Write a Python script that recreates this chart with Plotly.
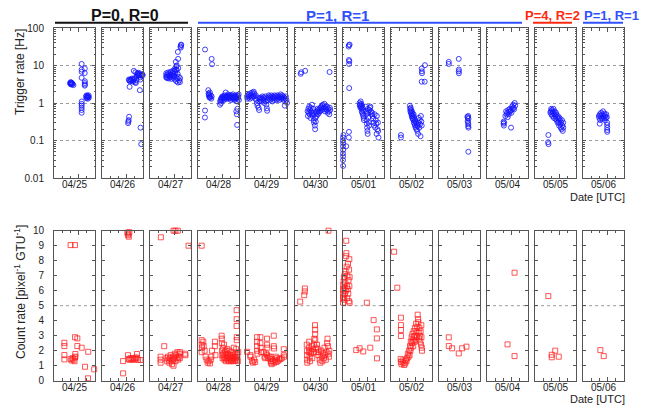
import plotly.graph_objects as go

W, H = 655, 407

dates = ["04/25", "04/26", "04/27", "04/28", "04/29", "04/30",
         "05/01", "05/02", "05/03", "05/04", "05/05", "05/06"]

# ---- Trigger rate [Hz]: (hour relative to 00:00 UTC of the date, value) ----
trig_0425 = [(-6.3, 3.4), (-6.0, 3.2), (-5.8, 3.6), (-5.6, 3.3), (-5.4, 3.5), (-5.2, 3.1), (-5.0, 3.4),
             (-4.8, 3.3), (-4.4, 3.2), (-3.8, 3.0), (2.3, 11.0), (2.3, 7.8), (2.3, 6.8), (2.3, 4.7),
             (2.4, 1.1), (2.3, 0.95), (2.3, 0.85), (2.3, 0.75), (2.3, 0.65), (2.3, 0.55), (4.6, 8.3),
             (4.6, 6.3), (4.7, 3.8), (4.6, 3.4), (4.7, 3.1), (4.6, 2.9), (5.5, 1.5), (5.8, 1.35), (6.0, 1.6),
             (6.3, 1.4), (6.6, 1.55), (6.9, 1.3), (7.2, 1.45), (7.5, 1.6), (7.7, 1.4), (7.0, 1.5)]
trig_0426 = [(1.1, 0.29), (1.5, 0.35), (1.8, 0.43), (1.3, 0.32), (2.2, 2.7), (1.6, 4.2), (2.0, 4.0),
             (2.4, 3.8), (2.8, 4.3), (3.2, 4.1), (3.6, 3.9), (4.0, 4.5), (4.4, 4.2), (4.8, 3.7), (5.2, 4.0),
             (5.6, 4.4), (6.0, 4.6), (6.4, 3.6), (6.8, 3.4), (7.2, 4.1), (7.6, 5.2), (8.0, 5.8), (8.4, 6.0),
             (8.8, 5.5), (9.2, 5.4), (9.6, 5.9), (10.0, 4.8), (10.4, 5.6), (10.8, 5.3), (11.2, 5.7),
             (11.6, 5.8), (11.9, 5.5), (10.2, 4.2), (5.3, 7.2), (6.5, 6.6), (8.0, 6.2), (9.0, 6.4),
             (9.8, 2.2), (10.3, 0.22), (10.8, 0.08)]
trig_0427 = [(-6.3, 4.8), (-6.3, 5.5), (-6.3, 6.2), (-6.0, 5.0), (-5.6, 4.6), (-5.3, 5.8), (-5.0, 6.5),
             (-4.7, 5.2), (-4.4, 4.5), (-4.1, 6.0), (-3.8, 5.4), (-3.5, 4.9), (-3.2, 6.8), (-2.9, 5.7),
             (-2.6, 4.4), (-2.3, 5.1), (-2.0, 6.3), (-1.7, 5.5), (-1.4, 7.2), (-1.1, 4.7), (-0.8, 6.0),
             (-0.5, 5.3), (-0.2, 8.0), (0.1, 4.2), (0.4, 6.6), (0.7, 5.0), (1.0, 9.5), (1.2, 3.8),
             (1.5, 7.5), (1.8, 4.5), (2.1, 6.0), (2.4, 3.5), (3.0, 5.0), (3.4, 4.0), (3.8, 3.6), (4.0, 4.6),
             (2.6, 8.5), (0.9, 7.8), (-0.5, 7.0), (0.8, 12.5), (1.5, 10.0), (2.3, 23.0), (2.5, 15.0),
             (4.3, 32.0), (4.6, 35.0), (4.8, 36.0), (4.5, 30.0)]
trig_0428 = [(-13.2, 26.7), (-8.3, 15.0), (-8.0, 10.8), (-13.2, 0.63), (-13.3, 0.41), (-10.8, 2.2),
             (-10.6, 1.8), (-10.4, 1.6), (-10.2, 1.7), (-9.9, 1.5), (-9.6, 1.9), (-9.3, 1.4), (-9.0, 1.6),
             (-8.6, 1.3), (-8.3, 1.5), (-10.0, 1.4), (-2.1, 0.9), (-2.0, 1.1), (-1.7, 1.2), (-1.4, 1.0),
             (-1.2, 1.3), (-0.9, 1.4), (-0.6, 1.2), (-0.3, 1.5), (0.0, 1.3), (0.3, 1.4), (0.6, 1.5),
             (0.9, 1.2), (1.2, 1.6), (1.5, 1.4), (1.8, 1.3), (2.1, 1.9), (2.4, 1.5), (2.7, 1.4), (3.0, 1.6),
             (3.3, 1.3), (3.6, 1.5), (3.9, 1.7), (4.2, 1.4), (4.5, 1.5), (4.8, 1.3), (5.1, 1.6), (5.4, 1.4),
             (5.7, 1.5), (6.0, 1.2), (6.3, 1.6), (6.6, 1.4), (6.9, 1.3), (7.2, 1.5), (7.5, 1.7), (7.8, 1.4),
             (8.1, 1.3), (8.4, 1.5), (8.7, 1.2), (9.0, 1.4), (9.3, 1.6), (9.6, 1.3), (9.9, 1.5), (10.2, 1.4),
             (10.5, 1.1), (10.8, 1.6), (11.1, 1.3), (11.4, 1.5), (11.7, 1.7), (11.9, 1.2), (10.0, 0.6),
             (10.4, 0.5), (10.8, 0.7), (10.6, 0.26)]
trig_0429 = [(-17.7, 1.5), (-17.5, 1.3), (-17.2, 1.6), (-16.8, 1.4), (-16.4, 1.7), (-16.0, 1.5),
             (-15.6, 1.3), (-15.2, 1.8), (-14.8, 1.6), (-14.4, 1.4), (-14.0, 1.9), (-13.6, 1.7),
             (-13.2, 1.5), (-12.8, 2.0), (-12.4, 1.8), (-12.0, 1.5), (-11.6, 1.3), (-11.2, 1.6),
             (-10.8, 1.2), (-10.4, 1.0), (-10.0, 0.85), (-9.6, 1.4), (-9.2, 0.75), (-8.8, 0.65),
             (-8.6, 1.1), (-8.2, 1.3), (-7.8, 1.2), (-7.4, 1.4), (-7.0, 1.1), (-6.6, 1.3), (-6.2, 1.5),
             (-5.8, 1.2), (-5.4, 1.4), (-5.0, 1.0), (-4.6, 1.3), (-4.2, 1.5), (-3.8, 1.1), (-3.4, 0.9),
             (-3.0, 0.72), (-2.8, 0.62), (-2.5, 1.2), (-2.1, 1.4), (-1.7, 1.6), (-1.3, 1.3), (-0.9, 1.5),
             (-0.5, 1.2), (-0.1, 1.4), (0.3, 1.6), (0.7, 1.3), (1.1, 1.1), (1.5, 1.5), (1.9, 1.4),
             (2.3, 1.2), (2.7, 1.6), (3.1, 1.3), (3.5, 1.5), (3.9, 1.4), (4.3, 1.2), (4.7, 1.6), (5.1, 1.3),
             (5.5, 1.5), (5.9, 1.4), (6.3, 1.2), (6.7, 1.5), (7.1, 1.7), (7.5, 1.3), (7.9, 1.4), (8.3, 1.6),
             (8.7, 1.3), (9.1, 1.5), (9.5, 1.2), (9.9, 1.4), (10.3, 0.85), (10.7, 1.3), (11.1, 1.5),
             (11.5, 1.2), (11.9, 1.0)]
trig_0430 = [(-13.6, 6.0), (-13.2, 6.6), (-10.3, 7.2), (7.8, 6.7), (-8.5, 0.6), (-8.2, 0.45), (-7.9, 0.7),
             (-7.6, 0.55), (-7.3, 0.8), (-7.0, 0.5), (-6.7, 0.65), (-6.4, 0.4), (-6.1, 0.75), (-5.8, 0.6),
             (-5.5, 0.5), (-5.2, 0.9), (-4.9, 0.55), (-4.6, 0.45), (-4.3, 0.7), (-4.0, 0.35), (-3.7, 0.3),
             (-3.4, 0.5), (-3.1, 0.25), (-2.9, 0.2), (-2.7, 0.4), (-2.4, 0.32), (-2.1, 0.6), (-1.8, 0.45),
             (-1.5, 0.55), (-1.2, 0.7), (-0.9, 0.5), (-0.6, 0.65), (-0.3, 0.6), (0.0, 0.55), (0.4, 0.7),
             (0.8, 0.6), (1.2, 0.75), (1.6, 0.8), (2.0, 0.65), (2.4, 0.85), (2.8, 0.9), (3.2, 0.7),
             (3.6, 0.75), (4.0, 0.95), (4.4, 0.6), (4.8, 0.8), (5.2, 0.7), (5.6, 0.65), (6.0, 0.8),
             (6.4, 0.55), (6.8, 0.7), (7.2, 0.6), (7.6, 0.5), (8.0, 0.75), (8.3, 0.65)]
trig_0501 = [(-17.9, 0.12), (-17.9, 0.1), (-17.8, 0.085), (-17.9, 0.07), (-17.8, 0.056), (-17.9, 0.045),
             (-17.8, 0.038), (-17.9, 0.03), (-17.8, 0.021), (-17.6, 0.14), (-15.5, 0.07), (-13.5, 35.0),
             (-13.0, 36.0), (-13.7, 32.0), (-13.5, 14.0), (-13.2, 13.0), (-13.4, 11.0), (-13.3, 2.5),
             (-13.5, 0.17), (-13.6, 0.12), (-5.6, 1.0), (-5.4, 0.85), (-5.2, 0.9), (-5.0, 0.75), (-4.8, 1.1),
             (-4.6, 0.8), (-4.4, 0.95), (-4.2, 0.7), (-4.0, 0.6), (-3.8, 0.85), (-3.6, 0.55), (-3.4, 0.75),
             (-3.2, 0.5), (-3.0, 0.65), (-2.8, 0.45), (-2.6, 0.4), (-2.4, 0.35), (-1.0, 0.8), (-0.8, 0.6),
             (-0.6, 0.5), (-0.4, 0.35), (-0.2, 0.28), (0.0, 0.22), (0.2, 0.18), (0.4, 0.15), (0.6, 0.7),
             (0.8, 0.55), (1.0, 0.42), (1.2, 0.3), (1.4, 0.25), (1.6, 0.65), (2.0, 0.75), (2.4, 0.8),
             (2.8, 0.6), (3.2, 0.5), (3.6, 0.55), (4.0, 0.45), (4.4, 0.38), (4.8, 0.3), (5.2, 0.25),
             (5.6, 0.5), (6.0, 0.22), (6.4, 0.35), (6.8, 0.28), (7.2, 0.45), (7.6, 0.2), (8.0, 0.3),
             (8.4, 0.12), (8.2, 0.18), (7.0, 0.15)]
trig_0502 = [(-10.6, 0.14), (-10.6, 0.12), (-4.0, 0.85), (-3.8, 0.7), (-3.6, 0.6), (-3.4, 0.75), (-3.2, 0.55),
             (-3.0, 0.65), (-2.8, 0.5), (-2.6, 0.45), (-2.4, 0.6), (-2.2, 0.4), (-2.0, 0.52), (-1.8, 0.38),
             (-1.6, 0.45), (-1.4, 0.35), (-1.2, 0.5), (-1.0, 0.3), (-0.8, 0.42), (-0.6, 0.28), (-0.4, 0.36),
             (-0.2, 0.25), (0.0, 0.33), (0.3, 0.22), (0.6, 0.3), (0.9, 0.2), (1.2, 0.26), (1.5, 0.18),
             (1.8, 0.24), (2.1, 0.15), (2.4, 0.3), (2.7, 0.4), (3.0, 0.22), (3.3, 0.35), (3.6, 0.27),
             (3.9, 0.13), (4.2, 0.45), (4.5, 0.32), (4.8, 0.25), (4.8, 8.3), (4.9, 7.0), (5.0, 6.2),
             (7.2, 10.2), (4.8, 3.7), (7.0, 3.7)]
trig_0503 = [(-10.8, 12.5), (-10.8, 11.0), (-3.4, 15.0), (-3.3, 7.8), (-3.4, 7.0), (-3.3, 6.2), (3.0, 0.43),
             (3.3, 0.4), (3.6, 0.45), (3.8, 0.38), (3.2, 0.33), (3.5, 0.3), (3.7, 0.27), (3.6, 0.24),
             (3.8, 0.22), (3.7, 0.05)]
trig_0504 = [(-5.8, 0.32), (-5.8, 0.28), (-5.6, 0.25), (-5.5, 0.3), (-4.5, 0.45), (-4.0, 0.6), (-3.6, 0.5),
             (-3.2, 0.55), (-2.8, 0.42), (-2.4, 0.65), (-2.0, 0.5), (-1.6, 0.58), (-1.2, 0.7), (-0.3, 0.22),
             (-0.8, 0.6), (-0.4, 0.65), (0.0, 0.55), (0.4, 0.8), (0.8, 0.7), (1.2, 0.9), (1.6, 0.75),
             (2.0, 0.68), (2.4, 1.0), (2.8, 0.85)]
trig_0505 = [(-8.3, 0.14), (-8.5, 0.09), (-8.2, 0.08), (-6.8, 0.55), (-6.5, 0.6), (-6.2, 0.7), (-6.0, 0.5),
             (-5.7, 0.65), (-5.4, 0.45), (-5.1, 0.6), (-4.8, 0.55), (-4.5, 0.7), (-4.2, 0.4), (-3.9, 0.5),
             (-3.6, 0.6), (-3.3, 0.45), (-3.0, 0.38), (-2.7, 0.55), (-2.4, 0.5), (-2.1, 0.35), (-1.8, 0.42),
             (-1.5, 0.3), (-1.2, 0.45), (-0.9, 0.38), (-0.6, 0.3), (-0.3, 0.25), (0.0, 0.4), (0.3, 0.35),
             (0.6, 0.28), (0.9, 0.22), (1.2, 0.3), (1.5, 0.2), (1.8, 0.35), (2.1, 0.25), (2.4, 0.18),
             (2.7, 0.3), (2.8, 0.22)]
trig_0506 = [(-6.5, 0.45), (-6.2, 0.4), (-5.8, 0.5), (-5.5, 0.35), (-5.2, 0.45), (-4.8, 0.55), (-4.5, 0.4),
             (-4.1, 0.5), (-3.8, 0.38), (-3.4, 0.6), (-3.1, 0.45), (-2.7, 0.4), (-2.4, 0.52), (-2.0, 0.35),
             (-1.7, 0.45), (-1.3, 0.4), (-1.0, 0.5), (-0.6, 0.42), (-0.4, 0.3), (-0.4, 0.26), (-0.3, 0.22),
             (-0.4, 0.19), (-0.3, 0.17), (-5.9, 0.28)]

# ---- Count rate [pixel^-1 GTU^-1] ----
cnt_0425 = [(-10.5, 2.53), (-10.5, 2.31), (-10.5, 1.71), (-10.5, 1.42), (-5.9, 9.04), (-2.6, 9.04),
            (-5.9, 1.45), (-5.2, 1.35), (-4.5, 1.5), (-3.8, 1.4), (-3.0, 1.3), (-2.6, 1.55), (-2.6, 2.9),
            (-2.4, 1.78), (-2.4, 1.6), (-0.9, 2.82), (-0.9, 2.31), (2.3, 2.2), (4.8, 0.93), (7.2, 1.93),
            (7.0, 0.16), (11.6, 0.76)]
cnt_0426 = [(-2.6, 1.31), (-2.6, 0.49), (0.5, 9.87), (1.1, 9.7), (1.6, 9.6), (2.0, 9.9), (1.2, 9.8),
            (1.0, 1.7), (1.5, 1.45), (2.0, 1.4), (2.8, 1.5), (3.6, 1.4), (4.4, 1.5), (5.2, 1.45), (6.0, 1.4),
            (6.8, 1.55), (7.7, 1.78), (7.5, 1.5), (8.5, 1.4), (10.2, 1.38)]
cnt_0427 = [(-10.3, 9.56), (-0.9, 10.0), (0.5, 10.0), (2.3, 10.0), (10.2, 9.0), (-10.5, 1.6), (-10.5, 1.4),
            (-10.5, 1.2), (-7.8, 2.3), (-6.0, 1.5), (-5.6, 1.3), (-5.0, 1.6), (-4.5, 1.4), (-4.0, 1.2),
            (-3.5, 1.5), (-3.0, 1.7), (-2.5, 1.3), (-2.0, 1.1), (-1.5, 1.4), (-1.0, 1.6), (-0.9, 1.0),
            (-0.5, 1.5), (0.0, 1.8), (0.5, 1.3), (1.0, 1.7), (1.5, 1.5), (2.0, 1.9), (2.5, 1.4), (3.0, 1.6),
            (3.4, 1.8), (3.8, 1.5), (4.0, 1.9), (7.7, 1.8), (7.9, 1.7)]
cnt_0428 = [(-15.7, 9.0), (-15.7, 2.7), (-15.6, 2.4), (-15.5, 2.2), (-15.7, 1.9), (-14.5, 2.6), (-14.2, 2.3),
            (-13.5, 2.0), (-12.8, 1.6), (-12.0, 1.4), (-11.2, 1.2), (-10.5, 1.3), (-9.6, 1.15), (-9.0, 1.4),
            (-8.5, 1.6), (-8.0, 2.0), (-5.9, 2.6), (-5.9, 2.3), (-5.5, 1.7), (-0.9, 3.0), (-0.8, 2.8),
            (-0.7, 2.5), (-0.6, 2.0), (-0.4, 1.7), (-0.2, 1.5), (0.0, 2.2), (0.3, 1.8), (0.6, 1.6),
            (0.9, 2.4), (1.2, 1.4), (1.5, 1.9), (1.8, 1.5), (2.1, 2.0), (2.4, 1.3), (2.7, 1.7), (3.0, 1.5),
            (3.3, 2.1), (3.6, 1.4), (3.9, 1.8), (4.2, 1.6), (4.5, 1.3), (4.8, 2.0), (5.1, 1.5), (5.4, 1.7),
            (5.7, 1.4), (6.0, 1.6), (6.3, 1.3), (6.6, 1.9), (6.9, 1.5), (7.2, 1.4), (7.5, 1.7), (7.8, 1.3),
            (8.1, 2.2), (8.4, 1.5), (8.7, 1.6), (9.0, 1.35), (9.3, 1.8), (9.6, 1.5), (9.9, 2.1), (10.2, 1.4),
            (10.5, 1.7), (10.8, 1.6), (11.1, 1.3), (11.4, 1.9), (10.2, 4.7), (10.2, 4.1), (10.2, 3.65),
            (10.3, 2.9), (10.3, 2.7)]
cnt_0429 = [(-17.7, 1.93), (-15.2, 1.7), (-15.2, 1.6), (-14.0, 1.3), (-13.2, 1.2), (-12.5, 1.4), (-11.7, 1.25),
            (-10.3, 2.9), (-10.3, 2.6), (-10.3, 2.3), (-10.3, 2.0), (-10.0, 1.8), (-7.8, 2.9), (-7.8, 2.5),
            (-7.6, 2.2), (-7.3, 1.9), (-5.4, 1.9), (-4.8, 1.6), (-4.2, 1.5), (-3.5, 1.8), (-2.9, 1.7),
            (-2.2, 1.5), (-1.6, 1.6), (-2.9, 2.8), (-2.9, 2.4), (-2.7, 2.2), (-0.4, 1.6), (-0.2, 1.3),
            (0.0, 1.2), (0.3, 1.45), (0.6, 1.1), (2.1, 3.0), (2.1, 2.3), (2.3, 2.15), (1.5, 1.3), (2.5, 1.2),
            (3.0, 1.4), (4.5, 1.5), (5.0, 1.3), (7.0, 1.45), (9.5, 2.1), (9.5, 1.7), (9.8, 1.6), (3.5, 1.6),
            (4.0, 1.25), (6.0, 1.4), (8.0, 1.5)]
cnt_0430 = [(-14.0, 5.27), (-11.0, 5.7), (-10.5, 6.15), (-10.6, 5.95), (7.0, 10.0), (-9.1, 2.4), (-9.0, 2.0),
            (-8.9, 1.7), (-8.8, 1.4), (-8.7, 1.2), (-7.5, 2.2), (-7.4, 1.9), (-7.3, 2.6), (-7.0, 1.6),
            (-6.8, 1.3), (-6.5, 2.0), (-6.0, 1.8), (-5.5, 2.3), (-5.0, 1.5), (-4.5, 2.1), (-4.2, 1.9),
            (-3.8, 2.4), (-3.5, 2.8), (-3.0, 3.7), (-2.9, 3.4), (-2.9, 3.1), (-2.8, 2.7), (-2.5, 2.2),
            (-2.0, 1.9), (-1.5, 2.4), (-1.0, 2.1), (-0.5, 1.7), (0.0, 1.9), (0.5, 1.4), (1.0, 1.2),
            (1.5, 2.0), (2.0, 1.6), (2.5, 1.3), (3.0, 1.8), (3.5, 1.5), (4.0, 2.2), (4.5, 1.7), (5.0, 1.4),
            (5.5, 1.9), (6.0, 2.5), (6.3, 2.8), (6.6, 2.3), (7.0, 1.8), (7.3, 1.6), (7.6, 2.0)]
cnt_0501 = [(-17.9, 5.2), (-17.9, 5.5), (-17.8, 5.8), (-17.8, 6.1), (-17.7, 6.4), (-17.6, 5.6), (-17.5, 6.0),
            (-17.4, 6.6), (-17.2, 6.9), (-17.0, 5.4), (-16.8, 6.2), (-16.6, 7.1), (-16.4, 5.8), (-16.2, 6.5),
            (-16.0, 7.3), (-15.8, 6.0), (-15.6, 8.3), (-15.5, 9.33), (-15.4, 8.5), (-15.2, 7.6), (-15.0, 6.3),
            (-14.8, 5.5), (-14.6, 7.0), (-14.4, 6.1), (-14.2, 7.8), (-14.0, 5.8), (-13.8, 6.7), (-13.6, 5.3),
            (-13.4, 7.4), (-13.2, 8.1), (-13.0, 6.9), (-13.0, 5.2), (-13.2, 6.3), (-0.2, 5.2), (-8.1, 2.04),
            (-5.6, 2.16), (-2.9, 1.95), (2.3, 2.2), (4.8, 4.04), (7.2, 3.42), (7.2, 2.82), (7.3, 1.49)]
cnt_0502 = [(-15.7, 8.6), (-13.3, 6.2), (-10.6, 4.2), (-10.6, 3.71), (-10.6, 3.38), (-10.6, 2.98),
            (-10.8, 1.45), (-10.6, 1.25), (-10.2, 1.1), (-9.4, 1.35), (-8.8, 1.2), (-8.2, 1.05), (-7.5, 1.15),
            (-7.0, 1.4), (-6.5, 1.3), (-6.0, 1.5), (-5.5, 1.8), (-5.0, 1.6), (-4.5, 2.0), (-4.2, 1.7),
            (-3.9, 2.3), (-3.6, 2.0), (-3.3, 2.6), (-3.0, 2.2), (-2.7, 2.9), (-2.4, 2.5), (-2.1, 3.1),
            (-1.8, 2.7), (-1.5, 2.3), (-1.2, 3.3), (-0.9, 2.9), (-0.6, 2.6), (-0.3, 3.5), (0.0, 3.0),
            (0.3, 2.7), (0.6, 3.8), (0.9, 3.3), (1.2, 2.9), (1.5, 3.6), (1.8, 4.4), (2.1, 4.1), (2.3, 3.9),
            (2.5, 3.2), (2.8, 2.8), (3.1, 3.5), (3.4, 3.0), (3.7, 2.6), (4.0, 3.3), (4.3, 2.4), (4.6, 2.9),
            (4.8, 2.2), (5.0, 2.0), (4.5, 3.7)]
cnt_0503 = [(-10.8, 2.89), (-10.8, 2.31), (-8.3, 2.16), (-3.4, 1.82), (-0.9, 2.16), (2.3, 2.27)]
cnt_0504 = [(-2.9, 2.42), (2.3, 7.2), (2.3, 1.64)]
cnt_0505 = [(-8.3, 5.64), (-5.8, 1.73), (-5.8, 1.56), (-3.2, 2.0), (-0.6, 1.6)]
cnt_0506 = [(-5.4, 2.04), (-2.9, 1.64)]

trig_panels = [trig_0425, trig_0426, trig_0427, trig_0428, trig_0429, trig_0430,
               trig_0501, trig_0502, trig_0503, trig_0504, trig_0505, trig_0506]
cnt_panels = [cnt_0425, cnt_0426, cnt_0427, cnt_0428, cnt_0429, cnt_0430,
              cnt_0501, cnt_0502, cnt_0503, cnt_0504, cnt_0505, cnt_0506]

log_ticks = [0.01, 0.1, 1, 10, 100]
log_ticktext = ["0.01", "0.1", "1", "10", "100"]
lin_ticks = list(range(0, 11))

# ---- layout geometry (pixels) ----
PANEL_LEFT0, PANEL_PITCH, PANEL_W = 54.0, 48.1, 41.0
TOP_Y0, TOP_Y1 = 28.0, 178.0
BOT_Y0, BOT_Y1 = 230.7, 380.7
XRANGE = [-18.2, 12.2]

FONT = "Liberation Sans, Arial, Helvetica, sans-serif"
AXC = "#555555"
BLUE_M = "rgba(20,20,255,0.8)"
RED_M = "rgba(255,30,30,0.75)"


def px(x):
    return x / W


def py(y):
    return 1 - y / H


fig = go.Figure()
layout = dict(width=W, height=H, margin=dict(l=0, r=0, t=0, b=0, pad=0, autoexpand=False),
              paper_bgcolor="white", plot_bgcolor="white", showlegend=False, hovermode=False,
              font=dict(family=FONT, size=10, color="#222"))
annotations = []
shapes = []

minor_log = [k * 10 ** e for e in range(-2, 2) for k in range(2, 10)]

for i in range(12):
    left = PANEL_LEFT0 + i * PANEL_PITCH
    xd = [px(left), px(left + PANEL_W)]
    for row in (0, 1):
        n = i + 1 + row * 12
        xa = "xaxis" if n == 1 else f"xaxis{n}"
        ya = "yaxis" if n == 1 else f"yaxis{n}"
        xs = "x" if n == 1 else f"x{n}"
        ys = "y" if n == 1 else f"y{n}"
        layout[xa] = dict(domain=xd, range=XRANGE, anchor=ys, showline=True, linecolor=AXC,
                          linewidth=1, mirror="ticks", ticks="inside", tickvals=[0], ticklen=4,
                          tickcolor=AXC, tickwidth=1, showticklabels=False, showgrid=False,
                          zeroline=False, fixedrange=True, automargin=False,
                          minor=dict(tickvals=[-18, -12, -6, 6, 12], ticklen=2.5, ticks="inside",
                                     tickcolor=AXC, showgrid=False))
        if row == 0:
            layout[ya] = dict(domain=[py(TOP_Y1), py(TOP_Y0)], type="log", range=[-2, 2], anchor=xs,
                              showline=True, linecolor=AXC, linewidth=1, mirror="ticks",
                              ticks="inside", ticklen=3, tickcolor=AXC, tickvals=log_ticks,
                              ticktext=log_ticktext, showticklabels=(i == 0), ticklabelstandoff=7,
                              showgrid=True, gridcolor="#9a9a9a", griddash="dot", gridwidth=1,
                              zeroline=False, automargin=False, fixedrange=True,
                              minor=dict(tickvals=minor_log, ticklen=1.5, ticks="inside",
                                         tickcolor=AXC, showgrid=False))
            data = trig_panels[i]
            fig.add_trace(go.Scatter(x=[p[0] for p in data], y=[p[1] for p in data], xaxis=xs, yaxis=ys,
                                     mode="markers", cliponaxis=False,
                                     marker=dict(symbol="circle-open", size=5, color=BLUE_M,
                                                 line=dict(width=1, color=BLUE_M))))
        else:
            layout[ya] = dict(domain=[py(BOT_Y1), py(BOT_Y0)], range=[0, 10], anchor=xs,
                              showline=True, linecolor=AXC, linewidth=1, mirror="ticks",
                              ticks="inside", ticklen=3, tickcolor=AXC, tickvals=lin_ticks,
                              showticklabels=(i == 0), ticklabelstandoff=7, showgrid=False,
                              zeroline=False, automargin=False, fixedrange=True)
            shapes.append(dict(type="line", xref=f"{xs} domain", yref=ys, x0=0, x1=1, y0=5, y1=5,
                               line=dict(color="#9a9a9a", width=1, dash="dot"), layer="below"))
            data = cnt_panels[i]
            fig.add_trace(go.Scatter(x=[p[0] for p in data], y=[p[1] for p in data], xaxis=xs, yaxis=ys,
                                     mode="markers", cliponaxis=False,
                                     marker=dict(symbol="square-open", size=5, color=RED_M,
                                                 line=dict(width=1, color=RED_M))))
    cx = px(left + PANEL_W / 2)
    for yc in (184.5, 387.0):
        annotations.append(dict(text=dates[i], x=cx, y=py(yc), xref="paper", yref="paper",
                                xanchor="center", yanchor="middle", showarrow=False,
                                font=dict(size=10, color="#222")))

# axis titles
annotations.append(dict(text="Trigger rate [Hz]", x=px(20), y=py(72), xref="paper", yref="paper",
                        textangle=-90, showarrow=False, xanchor="center", yanchor="middle",
                        font=dict(size=12, color="#222")))
annotations.append(dict(text="Count rate [pixel<sup>-1</sup> GTU<sup>-1</sup>]", x=px(20), y=py(292),
                        xref="paper", yref="paper", textangle=-90, showarrow=False,
                        xanchor="center", yanchor="middle", font=dict(size=12, color="#222")))
for yc in (197, 399):
    annotations.append(dict(text="Date [UTC]", x=px(627), y=py(yc), xref="paper", yref="paper",
                            xanchor="right", yanchor="middle", showarrow=False,
                            font=dict(size=11, color="#222")))

# configuration headers
headers = [("P=0, R=0", "#111111", 55, 188, 125, 16),
           ("P=1, R=1", "#3050ff", 198, 522, 337, 15),
           ("P=4, R=2", "#ff2a10", 533, 572, 552.5, 13),
           ("P=1, R=1", "#3050ff", 583, 623, 611.5, 13)]
for text, col, x0, x1, xc, fs in headers:
    annotations.append(dict(text=f"<b>{text}</b>", x=px(xc), y=py(15.5), xref="paper", yref="paper",
                            xanchor="center", yanchor="middle", showarrow=False,
                            font=dict(size=fs, color=col)))
    shapes.append(dict(type="line", xref="paper", yref="paper", x0=px(x0), x1=px(x1),
                       y0=py(22.7), y1=py(22.7), line=dict(color=col, width=2)))

layout["annotations"] = annotations
layout["shapes"] = shapes
fig.update_layout(**layout)
# no mode bar; remove the browser's default 8 px page margin so the figure fills the window
fig.write_html("out.html", config={"displayModeBar": False, "staticPlot": True},
               post_script="document.body.style.margin='0px';")
